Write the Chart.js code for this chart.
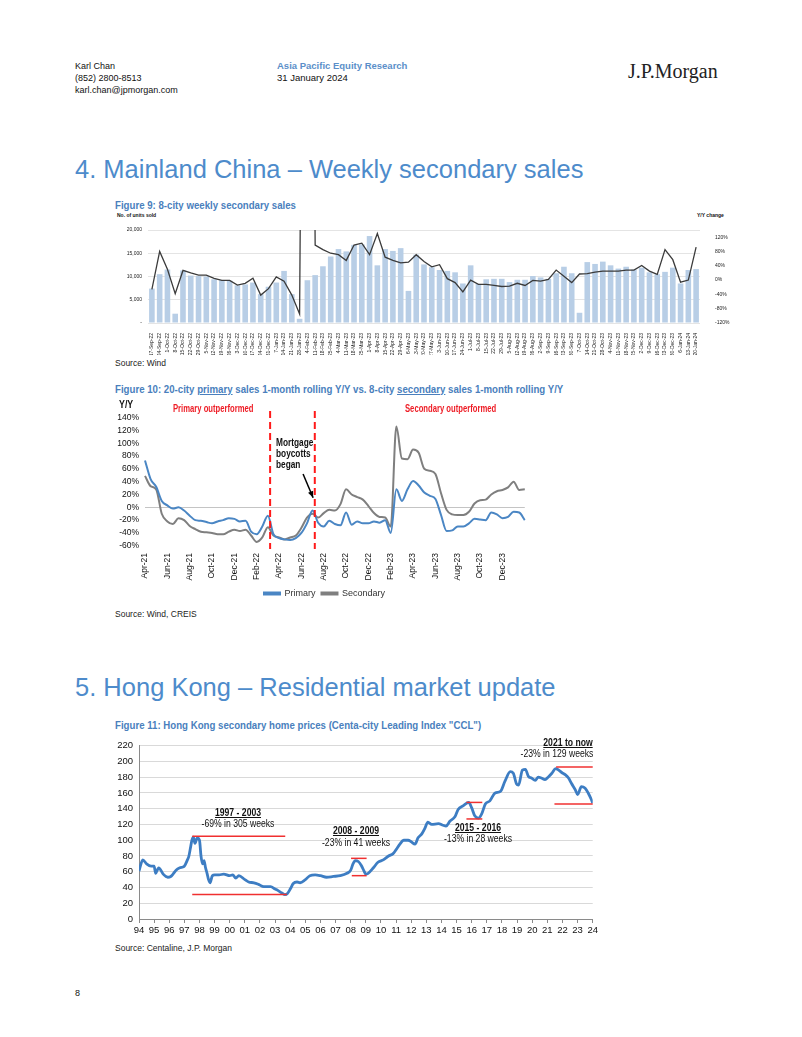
<!DOCTYPE html>
<html>
<head>
<meta charset="utf-8">
<script src="https://cdn.jsdelivr.net/npm/chart.js@4.4.1/dist/chart.umd.min.js"></script>
<style>
body{margin:0;width:802px;height:1037px;position:relative;background:#fff;font-family:"Liberation Sans",Arial,sans-serif;color:#111;overflow:hidden}
.t{position:absolute;white-space:nowrap;line-height:1}
.sx{transform:scaleX(0.84);transform-origin:0 0}
.h1{font-size:25.5px;color:#4d8bcb;left:75px}
.fig{font-size:11.5px;font-weight:bold;color:#4a7fbd;left:115px}
.src{font-size:8.5px;left:115px;color:#222}
.red{color:#ee1c25;font-weight:bold;font-size:10.5px;transform:scaleX(0.73);transform-origin:0 0}
.c{transform:translateX(-50%) scaleX(0.75);text-align:center}
.ann{font-size:11.5px;color:#111}
.ann b{text-decoration:underline}
canvas{position:absolute}
</style>
</head>
<body>
<div class="t" style="left:75px;top:62px;font-size:9px">Karl Chan</div>
<div class="t" style="left:75px;top:74px;font-size:9px">(852) 2800-8513</div>
<div class="t" style="left:75px;top:86px;font-size:9px">karl.chan@jpmorgan.com</div>
<div class="t" style="left:277px;top:61px;font-size:9.5px;font-weight:bold;color:#5b8fc9">Asia Pacific Equity Research</div>
<div class="t" style="left:277px;top:73px;font-size:9.5px">31 January 2024</div>
<div class="t" style="left:628px;top:61px;font-size:20px;font-family:'Liberation Serif','DejaVu Serif',serif;color:#222">J.P.Morgan</div>

<div class="t h1" style="top:157px">4. Mainland China – Weekly secondary sales</div>
<div class="t fig sx" style="top:200px">Figure 9: 8-city weekly secondary sales</div>
<div class="t" style="left:117px;top:213px;font-size:5px;font-weight:bold">No. of units sold</div>
<div class="t" style="left:697px;top:213px;font-size:5px;font-weight:bold">Y/Y change</div>
<canvas id="c9" width="630" height="135" style="left:110px;top:220px"></canvas>
<div class="t src" style="top:359px">Source: Wind</div>

<div class="t fig sx" style="top:384px">Figure 10: 20-city <u>primary</u> sales 1-month rolling Y/Y vs. 8-city <u>secondary</u> sales 1-month rolling Y/Y</div>
<canvas id="c10" width="429" height="208" style="left:110px;top:400px"></canvas>
<div class="t sx" style="left:119px;top:399px;font-size:10.5px;font-weight:bold">Y/Y</div>
<div class="t red" style="left:173px;top:403px">Primary outperformed</div>
<div class="t red" style="left:405px;top:403px">Secondary outperformed</div>
<div class="t" style="left:276px;top:437px;font-size:10.5px;font-weight:bold;line-height:11px;transform:scaleX(0.79);transform-origin:0 0">Mortgage<br>boycotts<br>began</div>
<div class="t src" style="top:610px">Source: Wind, CREIS</div>

<div class="t h1" style="top:675px">5. Hong Kong – Residential market update</div>
<div class="t fig sx" style="top:720px">Figure 11: Hong Kong secondary home prices (Centa-city Leading Index "CCL")</div>
<canvas id="c11" width="500" height="205" style="left:100px;top:734px"></canvas>
<div class="t ann c" style="left:238px;top:807px"><b>1997 - 2003</b></div>
<div class="t ann c" style="left:238px;top:818px">-69% in 305 weeks</div>
<div class="t ann c" style="left:356px;top:825px"><b>2008 - 2009</b></div>
<div class="t ann c" style="left:356px;top:837px">-23% in 41 weeks</div>
<div class="t ann c" style="left:478px;top:822px"><b>2015 - 2016</b></div>
<div class="t ann c" style="left:478px;top:833px">-13% in 28 weeks</div>
<div class="t ann c" style="left:568px;top:737px"><b>2021 to now</b></div>
<div class="t ann c" style="left:557px;top:748px">-23% in 129 weeks</div>
<div class="t src" style="top:944px">Source: Centaline, J.P. Morgan</div>
<div class="t" style="left:75px;top:989px;font-size:9px">8</div>

<script>
// ---- Figure 9: 8-city weekly secondary sales ----
const weekLabels = ['17-Sep-22','24-Sep-22','1-Oct-22','8-Oct-22','15-Oct-22','22-Oct-22','29-Oct-22','5-Nov-22','12-Nov-22','19-Nov-22','26-Nov-22','3-Dec-22','10-Dec-22','17-Dec-22','24-Dec-22','31-Dec-22','7-Jan-23','14-Jan-23','21-Jan-23','28-Jan-23','4-Feb-23','11-Feb-23','18-Feb-23','25-Feb-23','4-Mar-23','11-Mar-23','18-Mar-23','25-Mar-23','1-Apr-23','8-Apr-23','15-Apr-23','22-Apr-23','29-Apr-23','6-May-23','13-May-23','20-May-23','27-May-23','3-Jun-23','10-Jun-23','17-Jun-23','24-Jun-23','1-Jul-23','8-Jul-23','15-Jul-23','22-Jul-23','29-Jul-23','5-Aug-23','12-Aug-23','19-Aug-23','26-Aug-23','2-Sep-23','9-Sep-23','16-Sep-23','23-Sep-23','30-Sep-23','7-Oct-23','14-Oct-23','21-Oct-23','28-Oct-23','4-Nov-23','11-Nov-23','18-Nov-23','25-Nov-23','2-Dec-23','9-Dec-23','16-Dec-23','23-Dec-23','30-Dec-23','6-Jan-24','13-Jan-24','20-Jan-24'];
const unitsSold = [7400,10500,11500,2000,11300,10200,10100,10000,9400,9200,9100,8100,8300,8700,6200,7800,8700,11200,6200,900,9200,10300,12200,14300,15900,15400,16800,16900,18700,12400,15900,15500,16100,6900,14700,12600,12000,11400,11200,10900,8500,12400,8400,9400,9500,9500,8800,9300,9300,10100,9800,9500,10700,12100,10700,2200,13100,12700,13200,12400,11700,12100,11500,11900,10900,10500,11000,11900,8500,11400,11600];
const yoyChange = [-26,80,30,-38,27,20,14,14,5,-1,-1,-14,-9,5,-42,-24,9,-3,-42,-95,3000,98,85,75,71,55,98,103,71,130,64,55,48,50,71,52,37,43,4,-7,-33,0,-12,-12,-15,-18,-17,-9,-15,-1,-3,2,28,11,-7,17,18,22,25,25,25,28,28,41,25,16,85,57,-6,0,92];

// ---- Figure 10: primary vs secondary 1-month rolling Y/Y (semi-monthly points) ----
const fig10Ticks = ['Apr-21','Jun-21','Aug-21','Oct-21','Dec-21','Feb-22','Apr-22','Jun-22','Aug-22','Oct-22','Dec-22','Feb-23','Apr-23','Jun-23','Aug-23','Oct-23','Dec-23'];
const primaryYoY = [73,44,32,10,3,-2,0,-5,-13,-20,-21,-23,-25,-22,-20,-17,-18,-22,-21,-38,-42,-30,-13,-42,-48,-50,-51,-48,-40,-25,-5,-24,-30,-21,-26,-28,-8,-27,-22,-25,-25,-22,-24,-20,-40,28,10,28,41,34,23,18,13,-12,-37,-36,-30,-30,-25,-18,-19,-20,-8,-11,-17,-15,-7,-8,-20];
const secondaryYoY = [49,33,28,-10,-22,-26,-17,-20,-29,-34,-38,-39,-40,-42,-42,-38,-35,-37,-35,-44,-54,-47,-31,-44,-47,-50,-47,-44,-32,-16,-10,-16,-9,-4,-5,5,28,20,16,12,2,-9,-15,-16,-30,126,76,75,90,85,60,57,52,22,-4,-11,-12,-12,-7,6,11,12,20,25,27,31,40,27,28];
const fig10Cats = primaryYoY.map((v, i) => (i % 4 === 0 && fig10Ticks[i / 4]) ? fig10Ticks[i / 4] : '');

// ---- Figure 11: Hong Kong CCL ----
const cclYears = [1994.0,1994.25,1994.5,1994.8,1995.0,1995.1,1995.3,1995.6,1995.9,1996.1,1996.25,1996.45,1996.7,1996.9,1997.0,1997.2,1997.3,1997.4,1997.5,1997.6,1997.7,1997.85,1998.0,1998.1,1998.2,1998.3,1998.4,1998.5,1998.6,1998.7,1998.85,1999.0,1999.3,1999.6,2000.0,2000.2,2000.4,2000.6,2001.0,2001.25,2001.6,2001.9,2002.25,2002.7,2003.0,2003.2,2003.45,2003.65,2003.8,2004.0,2004.2,2004.45,2004.65,2005.0,2005.3,2005.65,2006.0,2006.4,2006.85,2007.3,2007.75,2008.0,2008.15,2008.3,2008.5,2008.7,2008.9,2009.0,2009.15,2009.5,2009.8,2010.15,2010.5,2010.8,2011.0,2011.25,2011.5,2011.8,2012.0,2012.25,2012.45,2012.7,2012.9,2013.1,2013.35,2013.8,2014.1,2014.3,2014.55,2014.9,2015.1,2015.45,2015.8,2016.0,2016.2,2016.45,2016.65,2016.9,2017.2,2017.55,2017.9,2018.2,2018.55,2018.75,2018.95,2019.1,2019.35,2019.55,2019.75,2019.95,2020.2,2020.4,2020.6,2020.85,2021.05,2021.3,2021.55,2021.75,2021.95,2022.2,2022.4,2022.6,2022.85,2023.0,2023.25,2023.5,2023.7,2023.9,2024.0];
const cclIndex = [61,75,70,67,67,58,65,57,53,54,57,62,65,66,67,75,80,90,100,104,96,103,100,80,70,74,65,58,50,46,55,56,56,57,55,56,52,55,50,47,46,44,41,41,38,36,33,31,32,38,45,47,46,50,55,56,55,53,54,55,58,62,70,74,73,68,60,57,58,65,72,75,80,83,88,95,100,100,98,95,103,108,115,123,120,121,119,118,124,130,139,144,148,141,131,128,133,146,150,160,162,175,187,185,172,170,189,190,181,179,176,180,179,177,180,185,191,189,186,183,179,172,164,158,168,166,160,152,147];
const cclDrawdowns = [
  {from: 1997.52, to: 2003.67, y: 105}, {from: 1997.52, to: 2003.78, y: 31},
  {from: 2008.02, to: 2009.05, y: 77}, {from: 2008.07, to: 2009.05, y: 55},
  {from: 2015.65, to: 2016.7, y: 148}, {from: 2015.65, to: 2016.7, y: 127},
  {from: 2021.58, to: 2024.0, y: 193}, {from: 2021.47, to: 2024.0, y: 146}
];

Chart.defaults.font.family = '"Liberation Sans",Arial,sans-serif';
Chart.defaults.color = '#222';

new Chart(document.getElementById('c9'), {
  data: {
    labels: weekLabels,
    datasets: [
      {type: 'line', data: yoyChange, yAxisID: 'yr', borderColor: '#3b3b3b', borderWidth: 1.3, pointRadius: 0, tension: 0},
      {type: 'bar', data: unitsSold, yAxisID: 'yl', backgroundColor: '#b8cee6', barPercentage: 0.72, categoryPercentage: 1}
    ]
  },
  options: {
    responsive: false, animation: false,
    layout: {padding: {top: 8}},
    plugins: {legend: {display: false}, tooltip: {enabled: false}},
    scales: {
      x: {
        grid: {display: false}, border: {display: false},
        ticks: {autoSkip: false, minRotation: 90, maxRotation: 90, font: {size: 5}, padding: 2},
        afterFit(s) { s.height = 32; }
      },
      yl: {
        position: 'left', min: 0, max: 20000,
        ticks: {stepSize: 5000, font: {size: 5}, padding: 6, callback: v => v === 0 ? '-' : v.toLocaleString('en-US')},
        grid: {color: '#e4e4e4', drawTicks: false}, border: {display: false},
        afterFit(s) { s.width = 38; }
      },
      yr: {
        position: 'right', min: -120, max: 140,
        ticks: {stepSize: 40, includeBounds: false, font: {size: 5}, padding: 7, callback: v => v + '%'},
        grid: {display: false}, border: {display: false},
        afterFit(s) { s.width = 40; }
      }
    }
  }
});

// red dashed divider lines and arrow on figure 10
const fig10Marks = {
  id: 'fig10Marks',
  afterDatasetsDraw(chart) {
    const {ctx, chartArea, scales: {x, y}} = chart;
    ctx.save();
    ctx.strokeStyle = '#ff1a1a';
    ctx.lineWidth = 2;
    ctx.setLineDash([7, 4]);
    [22.4, 30.4].forEach(k => {
      const px = x.getPixelForValue(k);
      ctx.beginPath();
      ctx.moveTo(px, chartArea.top);
      ctx.lineTo(px, chartArea.bottom);
      ctx.stroke();
    });
    ctx.setLineDash([]);
    const x0 = x.getPixelForValue(28.3), y0 = y.getPixelForValue(52);
    const x1 = x.getPixelForValue(30.1), y1 = y.getPixelForValue(15);
    ctx.strokeStyle = '#000';
    ctx.fillStyle = '#000';
    ctx.lineWidth = 1.5;
    ctx.beginPath();
    ctx.moveTo(x0, y0);
    ctx.lineTo(x1, y1);
    ctx.stroke();
    const a = Math.atan2(y1 - y0, x1 - x0);
    ctx.beginPath();
    ctx.moveTo(x1, y1);
    ctx.lineTo(x1 - 7 * Math.cos(a - 0.4), y1 - 7 * Math.sin(a - 0.4));
    ctx.lineTo(x1 - 7 * Math.cos(a + 0.4), y1 - 7 * Math.sin(a + 0.4));
    ctx.closePath();
    ctx.fill();
    ctx.restore();
  }
};

new Chart(document.getElementById('c10'), {
  type: 'line',
  data: {
    labels: fig10Cats,
    datasets: [
      {label: 'Primary', data: primaryYoY, borderColor: '#4a86c4', backgroundColor: '#4a86c4', borderWidth: 2, pointRadius: 0, cubicInterpolationMode: 'monotone'},
      {label: 'Secondary', data: secondaryYoY, borderColor: '#7f7f7f', backgroundColor: '#7f7f7f', borderWidth: 2, pointRadius: 0, cubicInterpolationMode: 'monotone'}
    ]
  },
  options: {
    responsive: false, animation: false,
    layout: {padding: {top: 11, right: 0}},
    plugins: {
      tooltip: {enabled: false},
      legend: {position: 'bottom', labels: {boxWidth: 16, boxHeight: 2, font: {size: 9}, color: '#333', padding: 6}}
    },
    scales: {
      x: {
        grid: {display: false, drawTicks: false}, border: {display: false},
        ticks: {autoSkip: false, minRotation: 90, maxRotation: 90, font: {size: 8.5}, color: '#111', padding: 4},
        afterFit(s) { s.height = 34; }
      },
      y: {
        min: -65, max: 150,
        ticks: {stepSize: 20, includeBounds: false, autoSkip: false, font: {size: 8.5}, color: '#111', padding: 6, callback: v => v + '%'},
        grid: {color: c => c.tick && c.tick.value === 0 ? '#c4c4c4' : 'rgba(0,0,0,0)', drawTicks: false},
        border: {display: false},
        afterFit(s) { s.width = 35; }
      }
    }
  },
  plugins: [fig10Marks]
});

// red drawdown markers on figure 11
const cclMarks = {
  id: 'cclMarks',
  afterDatasetsDraw(chart) {
    const {ctx, scales: {x, y}} = chart;
    ctx.save();
    ctx.strokeStyle = '#f03030';
    ctx.lineWidth = 1.5;
    cclDrawdowns.forEach(d => {
      const py = y.getPixelForValue(d.y);
      ctx.beginPath();
      ctx.moveTo(x.getPixelForValue(d.from), py);
      ctx.lineTo(x.getPixelForValue(d.to), py);
      ctx.stroke();
    });
    ctx.restore();
  }
};

new Chart(document.getElementById('c11'), {
  type: 'line',
  data: {
    datasets: [{
      data: cclYears.map((yr, i) => ({x: yr, y: cclIndex[i]})),
      borderColor: '#3d7dc3', borderWidth: 2.8, pointRadius: 0, cubicInterpolationMode: 'monotone'
    }]
  },
  options: {
    responsive: false, animation: false,
    layout: {padding: {top: 8, right: 7}},
    plugins: {legend: {display: false}, tooltip: {enabled: false}},
    scales: {
      x: {
        type: 'linear', min: 1994, max: 2024,
        ticks: {stepSize: 1, autoSkip: false, maxRotation: 0, font: {size: 9.5}, color: '#111', padding: 2, callback: v => String(v % 100).padStart(2, '0')},
        grid: {drawOnChartArea: false, tickLength: 4, color: '#8a8a8a'},
        border: {color: '#8a8a8a'},
        afterFit(s) { s.height = 20; }
      },
      y: {
        min: 0, max: 220,
        ticks: {stepSize: 20, font: {size: 9.5}, color: '#111', padding: 6},
        grid: {color: '#d9d9d9', drawTicks: false},
        border: {color: '#8a8a8a'},
        afterFit(s) { s.width = 39; }
      }
    }
  },
  plugins: [cclMarks]
});
</script>
</body>
</html>
